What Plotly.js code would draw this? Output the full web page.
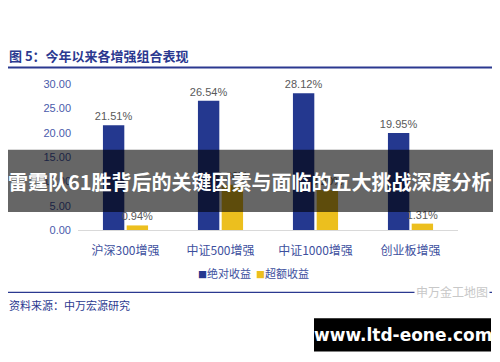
<!DOCTYPE html>
<html>
<head>
<meta charset="utf-8">
<script src="https://cdn.plot.ly/plotly-3.0.1.min.js"></script>
<style>
html,body{margin:0;padding:0;background:#fff;}
#chart{width:500px;height:362px;}
</style>
</head>
<body>
<div id="chart"></div>
<script>
// ---- data ----
const categories = ['沪深300增强', '中证500增强', '中证1000增强', '创业板增强'];
const absoluteReturn = [21.51, 26.54, 28.12, 19.95];
const excessReturn = [0.94, 9.30, 8.20, 1.31];
const seriesNames = ['绝对收益', '超额收益'];
const seriesColors = ['#24388f', '#ecbf1e'];
const yTicks = [0, 5, 10, 15, 20, 25, 30];
const chartTitle = '图 5：今年以来各增强组合表现';
const sourceText = '资料来源：中万宏源研究';
const bannerText = '雷霆队61胜背后的关键因素与面临的五大挑战深度分析';
const watermarkText = '申万金工地图';
const siteText = 'www.ltd-eone.com';

// ---- layout geometry (pixels) ----
const W = 500, H = 362;
const L = 78, R = 458, T = 84, B = 230.5;
const px = x => (x - L) / (R - L);
const py = y => (B - y) / (B - T);

const FONT = 'Liberation Sans, Arial, Noto Sans CJK SC, sans-serif';
const CJK = 'Noto Sans CJK SC, sans-serif';
const NAVY = '#2b3990';

const traces = [absoluteReturn, excessReturn].map((vals, i) => ({
  type: 'bar', name: seriesNames[i], x: categories, y: vals,
  marker: {color: seriesColors[i]},
  texttemplate: '%{y:.2f}%', textposition: 'outside', cliponaxis: false,
  constraintext: 'none',
  textfont: {color: '#595959', size: 11, family: FONT}
}));

// compact legend drawn as annotations (library legend spacing is too wide)
const legendAnn = seriesNames.map((n, i) => ({
  text: '<span style="color:' + seriesColors[i] + ';font-size:9px">■</span>' + n,
  xref: 'paper', yref: 'paper', x: px(i === 0 ? 196 : 254), y: py(274),
  xanchor: 'left', yanchor: 'middle', showarrow: false,
  font: {family: CJK, size: 11, color: '#3d4f9e'}
}));

const layout = {
  width: W, height: H,
  margin: {l: L, r: W - R, t: T, b: H - B},
  paper_bgcolor: '#ffffff', plot_bgcolor: '#ffffff',
  font: {family: FONT, size: 11, color: '#595959'},
  barmode: 'group', bargap: 0.5, bargroupgap: 0.1,
  showlegend: false,
  xaxis: {
    showline: true, linecolor: '#d9d9d9', linewidth: 1,
    ticks: 'outside', ticklen: 10, tickcolor: 'rgba(255,255,255,0)',
    tickfont: {family: CJK, size: 12, color: '#3d4f9e'},
    fixedrange: true
  },
  yaxis: {
    range: [0, 30], tickvals: yTicks, tickformat: '.2f', ticksuffix: '%',
    showgrid: false, zeroline: false, showline: false, ticks: '',
    tickfont: {family: FONT, size: 11, color: '#4a5bab'},
    ticklabelstandoff: 6, fixedrange: true
  },
  shapes: [
    {type: 'line', xref: 'paper', yref: 'paper', x0: px(8), x1: px(492), y0: py(67.5), y1: py(67.5),
     line: {color: NAVY, width: 2}},
    {type: 'line', xref: 'paper', yref: 'paper', x0: px(8), x1: px(492), y0: py(293), y1: py(293),
     line: {color: NAVY, width: 1.2}},
    {type: 'rect', xref: 'paper', yref: 'paper', x0: px(8), x1: px(493), y0: py(150), y1: py(212.5),
     fillcolor: 'rgba(0,0,0,0.6)', line: {width: 0}, layer: 'above'},
    {type: 'rect', xref: 'paper', yref: 'paper', x0: px(314), x1: px(491), y0: py(319), y1: py(352.5),
     fillcolor: '#000000', line: {width: 0}, layer: 'above'}
  ],
  annotations: [
    {text: chartTitle, xref: 'paper', yref: 'paper', x: px(7), y: py(55), xanchor: 'left', yanchor: 'middle',
     showarrow: false, font: {family: CJK, size: 13, color: NAVY, weight: 'bold'}},
    {text: sourceText, xref: 'paper', yref: 'paper', x: px(7), y: py(306), xanchor: 'left', yanchor: 'middle',
     showarrow: false, font: {family: CJK, size: 11, color: NAVY}},
    {text: watermarkText, xref: 'paper', yref: 'paper', x: px(490), y: py(292), xanchor: 'right', yanchor: 'middle',
     showarrow: false, bgcolor: '#ffffff', font: {family: CJK, size: 12, color: '#c8c8c8'}},
    {text: bannerText, xref: 'paper', yref: 'paper', x: px(250), y: py(182), xanchor: 'center', yanchor: 'middle',
     showarrow: false, font: {family: CJK, size: 20, color: '#ffffff', weight: 'bold'}},
    {text: siteText, xref: 'paper', yref: 'paper', x: px(402.5), y: py(336), xanchor: 'center', yanchor: 'middle',
     showarrow: false, font: {family: 'DejaVu Sans, sans-serif', size: 17, color: '#ffffff', weight: 'bold'}}
  ].concat(legendAnn)
};

Plotly.newPlot('chart', traces, layout, {staticPlot: true, displayModeBar: false});
</script>
</body>
</html>
